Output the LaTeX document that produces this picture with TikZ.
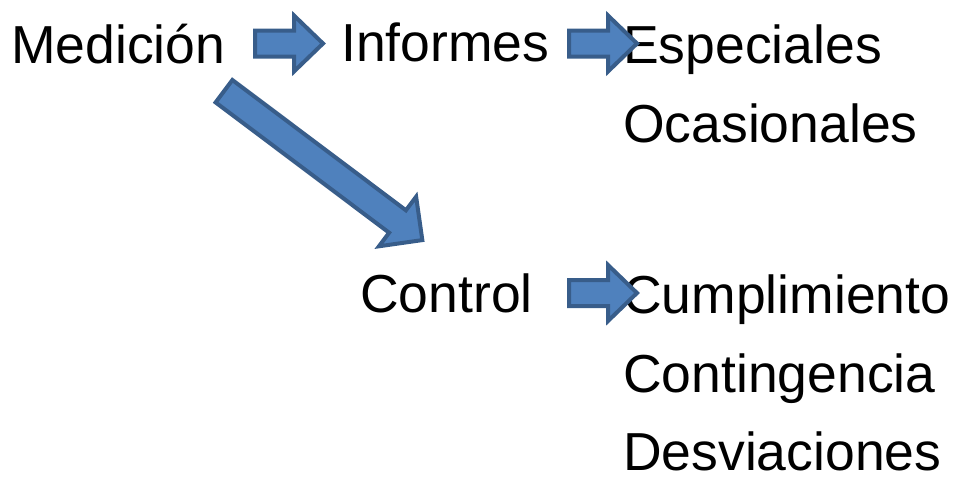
\documentclass[tikz,border=0pt]{standalone}
\usepackage{fontspec}
\setmainfont{Liberation Sans}
\usetikzlibrary{positioning}

% block arrow: tail middle, angle, length, head length, shaft half width, head half width
\newcommand{\blockarrow}[6]{%
  \begin{scope}[shift={#1}, rotate=#2]
    \draw[bigarrow] (0,-#5) -- (#3-#4,-#5) -- (#3-#4,-#6) -- (#3,0)
      -- (#3-#4,#6) -- (#3-#4,#5) -- (0,#5) -- cycle;
  \end{scope}}

\begin{document}
\begin{tikzpicture}[x=1pt, y=-1pt,
    item/.style={inner sep=0pt, anchor=base west, font=\fontsize{53.5}{64}\selectfont},
    bigarrow/.style={fill=arrowfill, draw=arrowline, line width=4pt, line join=miter}
]
\definecolor{arrowfill}{HTML}{4F81BD}
\definecolor{arrowline}{HTML}{385D8A}
\useasboundingbox (0,0) rectangle (954,477);

% first row
\node[item] (medicion) at (11,63) {Medición};
\node[item] (informes) at (341,61) {Informes};
\node[item] (especiales) at (623,63) {Especiales};
\node[item, below=79pt of especiales.base west, anchor=base west] (ocasionales) {Ocasionales};

% second row
\node[item] (control) at (360,312) {Control};
\node[item] (cumplimiento) at (623,313) {Cumplimiento};
\node[item, below=79pt of cumplimiento.base west, anchor=base west] (contingencia) {Contingencia};
\node[item, below=78pt of contingencia.base west, anchor=base west] (desviaciones) {Desviaciones};

% arrows
\blockarrow{(255,43.5)}{0}{68}{29}{13}{28}
\blockarrow{(569,43.5)}{0}{68}{29}{13}{28}
\blockarrow{(569,293)}{0}{68}{29}{13}{28}
\blockarrow{(224,91.2)}{-36.9}{248}{31}{14}{31}
\end{tikzpicture}
\end{document}
